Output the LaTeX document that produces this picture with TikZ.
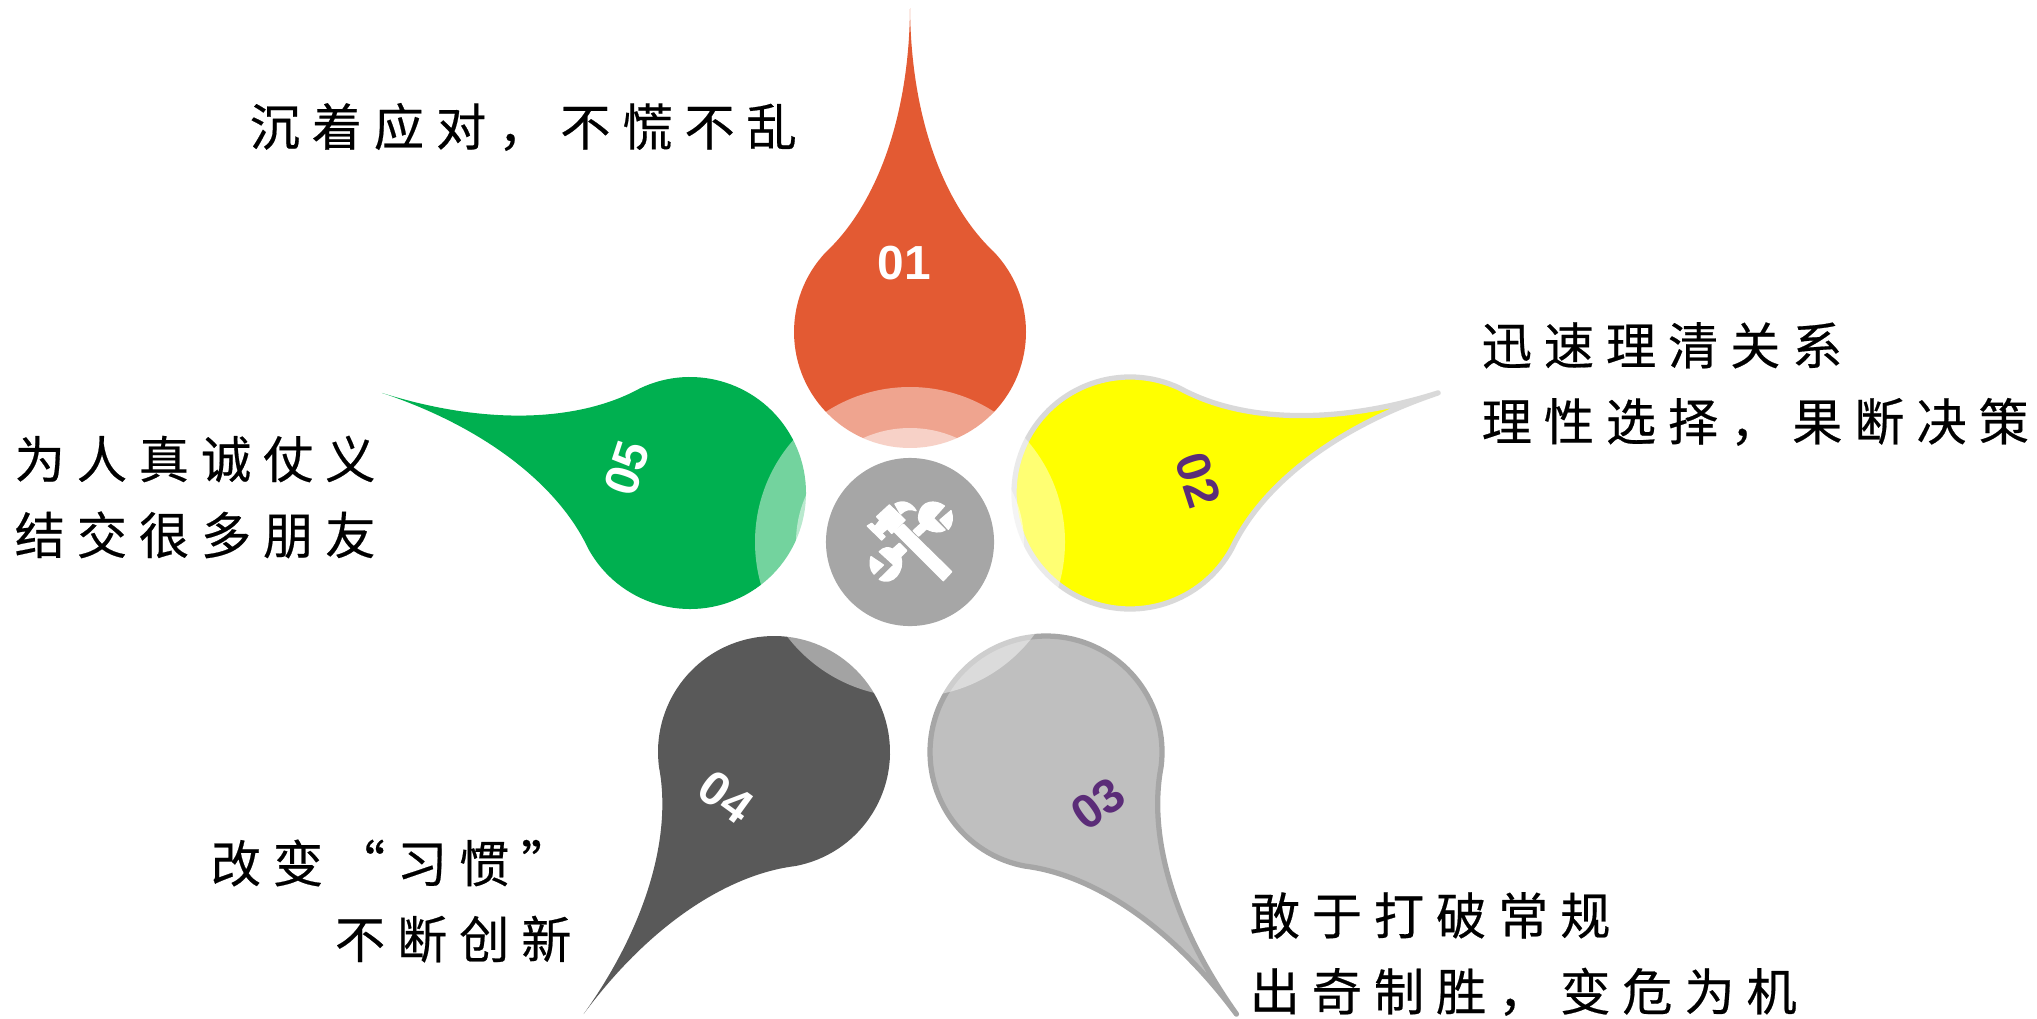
\documentclass[tikz,border=0pt]{standalone}
\usepackage{fontspec}
\setmainfont{Liberation Sans}
\newfontfamily\cjk[LetterSpace=23.5,FakeBold=0.4]{Noto Sans CJK SC}
\usetikzlibrary{positioning}
\definecolor{dropred}{HTML}{E35A33}
\definecolor{dropyellow}{RGB}{255,255,0}
\definecolor{dropgreen}{HTML}{00B050}
\definecolor{dropdark}{HTML}{595959}
\definecolor{dropgrey}{HTML}{BFBFBF}
\definecolor{rimgrey}{HTML}{A6A6A6}
\definecolor{rimlight}{HTML}{D9D9D9}
\definecolor{numpurple}{HTML}{5B2C78}

\begin{document}
\begin{tikzpicture}[
    x=0.01cm,y=0.01cm,
    line join=round,
    drop/.pic={
        \path[pic actions] (84,80) .. controls (36,125) and (1,210) .. (0,324)
            .. controls (-1,210) and (-36,125) .. (-84,80)
            arc[start angle=136.4,end angle=403.6,radius=116] -- cycle;
    },
    num/.style={font=\fontsize{13.6pt}{15pt}\selectfont\bfseries,inner sep=0pt},
    label/.style={font=\fontsize{14.3pt}{21.6pt}\selectfont\cjk,inner sep=0pt,anchor=west,align=left},
    tool/.style={fill=white,draw=white,line width=0.4pt},
]
    \useasboundingbox (0,0) rectangle (2037,-1018);

    %drops
    \pic[fill=dropred] at (910,-332) {drop};
    \pic[rotate=-72,fill=dropyellow,draw=rimlight,line width=1.5pt] at (1130,-493) {drop};
    \pic[rotate=-144,fill=dropgrey,draw=rimgrey,line width=1.5pt] at (1046,-752) {drop};
    \pic[rotate=144,fill=dropdark] at (774,-752) {drop};
    \pic[rotate=72,fill=dropgreen] at (690,-493) {drop};

    %highlights
    \coordinate (core) at (910,-542);
    \fill[white,opacity=0.45] (core) circle[radius=155];
    \fill[white,opacity=0.5] (core) circle[radius=114];
    \node[circle,fill=rimgrey,minimum size=1.68cm,inner sep=0pt] (hub) at (core) {};

    %numbers
    \node[num,white] (n1) at (904,-263) {01};
    \node[num,numpurple,rotate=-72] (n2) at (1198,-480) {02};
    \node[num,numpurple,rotate=36] (n3) at (1098,-804) {03};
    \node[num,white,rotate=-36] (n4) at (726,-797) {04};
    \node[num,white,rotate=72] (n5) at (627,-468) {05};

    %labels
    \node[label] (t1) at (249,-127) {沉着应对，不慌不乱};
    \node[label] (t2) at (1481,-384) {迅速理清关系\\理性选择，果断决策};
    \node[label] (t3) at (1249,-954) {敢于打破常规\\出奇制胜，变危为机};
    \node[label,align=right] (t4) at (210,-901) {改变“习惯”\\不断创新};
    \node[label] (t5) at (14,-497) {为人真诚仗义\\结交很多朋友};

    %tools
    \begin{scope}[shift={(850,-490)},scale=1/3]
        \path[tool] (283,-48) .. controls (255,-28) and (215,-32) .. (207,-72)
            .. controls (203,-90) and (210,-98) .. (214,-100) -- (190,-122) -- (206,-138) -- (230,-116)
            .. controls (250,-128) and (272,-128) .. (285,-120) -- (250,-85) -- cycle;
        \path[tool] (303,-62) -- (270,-90) -- (295,-118) .. controls (307,-105) and (310,-82) .. (303,-62) -- cycle;
        \path[tool] (88,-185) .. controls (100,-172) and (118,-170) .. (128,-178) -- (148,-160) -- (170,-182)
            -- (152,-200) .. controls (165,-240) and (130,-290) .. (88,-268) -- (132,-225) -- cycle;
        \path[tool] (63,-200) -- (100,-225) -- (72,-252) .. controls (60,-240) and (58,-218) .. (63,-200) -- cycle;
        \path[tool] (133,-125) -- (160,-103) -- (305,-245) -- (280,-272) -- cycle;
        \path[tool] (80,-80) -- (118,-45) -- (165,-90) -- (125,-130) -- cycle;
        \path[tool] (52,-108) -- (65,-100) -- (105,-140) -- (95,-150) -- cycle;
        \path[tool] (90,-91) -- (112,-116) -- (95,-130) -- (75,-110) -- cycle;
        \path[tool] (135,-42) .. controls (160,-28) and (185,-40) .. (198,-62)
            .. controls (180,-55) and (165,-58) .. (152,-72) -- cycle;
    \end{scope}
\end{tikzpicture}
\end{document}
